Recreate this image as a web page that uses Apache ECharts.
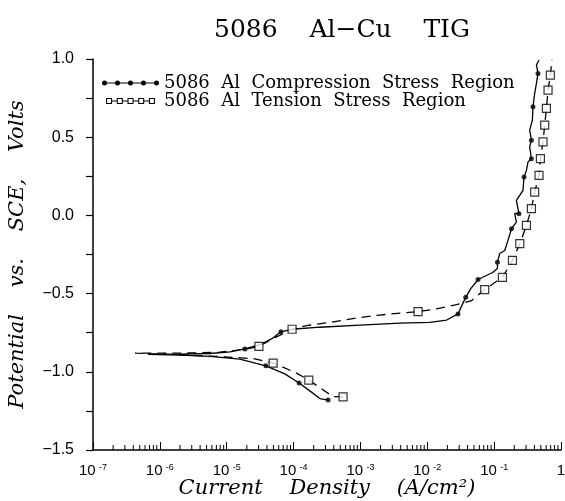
<!DOCTYPE html>
<html><head><meta charset="utf-8">
<script src="https://cdn.jsdelivr.net/npm/echarts@6/dist/echarts.min.js"></script>
<style>html,body{margin:0;padding:0;background:#fff}#c{width:565px;height:501px}</style>
</head><body><div id="c"></div>
<script>
const titleText = '5086    Al\u2212Cu    TIG';
const xAxisName = 'Current    Density    (A/cm\u00B2)';
const yAxisName = 'Potential    vs.    SCE,    Volts';
const nameComp = '5086  Al  Compression  Stress  Region';
const nameTens = '5086  Al  Tension  Stress  Region';
const xTickExponents = [-7, -6, -5, -4, -3, -2, -1, 0];
const yTickValues = [-1.5, -1.0, -0.5, 0.0, 0.5, 1.0];

// Compression: current density (A/cm2) and potential (V vs SCE), scan order
const compCurrent = [3.29e-4, 2.47e-4, 1.75e-4, 1.21e-4, 7.4e-5, 3.85e-5, 1.57e-5, 5.6e-6, 2.0e-6, 6.6e-7,
  2.0e-6, 5.6e-6, 1.12e-5, 1.87e-5, 3.13e-5, 4.74e-5, 6.46e-5, 9.4e-5, 2.47e-4, 9.8e-4,
  3.88e-3, 1.09e-2, 1.95e-2, 2.88e-2, 3.28e-2, 3.76e-2, 4.47e-2, 5.74e-2, 9.5e-2, 0.112,
  0.112, 0.121, 0.144, 0.161, 0.182, 0.215, 0.203, 0.235, 0.215, 0.270,
  0.280, 0.304, 0.321, 0.361, 0.340, 0.361, 0.340, 0.373, 0.381, 0.404,
  0.429, 0.453, 0.429, 0.469];
const compPotential = [-1.181, -1.171, -1.122, -1.072, -1.013, -0.962, -0.919, -0.901, -0.894, -0.888,
  -0.887, -0.883, -0.872, -0.854, -0.827, -0.788, -0.744, -0.728, -0.715, -0.702,
  -0.689, -0.684, -0.669, -0.630, -0.577, -0.524, -0.468, -0.410, -0.365, -0.340,
  -0.299, -0.244, -0.224, -0.160, -0.085, -0.043, 0.013, 0.011, 0.096, 0.160,
  0.246, 0.288, 0.342, 0.363, 0.438, 0.481, 0.545, 0.609, 0.694, 0.780,
  0.844, 0.908, 0.962, 0.994];
const compMarkCurrent = [3.29e-4, 1.21e-4, 3.85e-5, 1.87e-5, 6.46e-5, 2.88e-2, 3.76e-2, 5.74e-2, 0.112, 0.182, 0.235, 0.280, 0.361, 0.361, 0.381, 0.453];
const compMarkPotential = [-1.181, -1.072, -0.962, -0.854, -0.744, -0.630, -0.524, -0.410, -0.299, -0.085, 0.011, 0.246, 0.363, 0.481, 0.694, 0.908];

// Tension
const tensCurrent = [5.5e-4, 3.86e-4, 2.47e-4, 1.69e-4, 1.08e-4, 4.95e-5, 2.64e-5, 9.4e-6, 2.0e-6, 4.25e-7,
  2.0e-6, 7.9e-6, 1.87e-5, 3.03e-5, 5.25e-5, 9.5e-5, 1.56e-4, 3.49e-4, 8.75e-4, 1.95e-3,
  4.11e-3, 7.28e-3, 1.37e-2, 2.73e-2, 4.58e-2, 7.22e-2, 0.133, 0.188, 0.242, 0.304,
  0.361, 0.404, 0.469, 0.492, 0.538, 0.570, 0.605, 0.640, 0.693, 0.733];
const tensPotential = [-1.160, -1.158, -1.101, -1.053, -1.006, -0.944, -0.917, -0.904, -0.891, -0.880,
  -0.881, -0.875, -0.856, -0.838, -0.782, -0.728, -0.705, -0.684, -0.656, -0.637,
  -0.624, -0.615, -0.598, -0.571, -0.545, -0.474, -0.396, -0.288, -0.181, -0.064,
  0.043, 0.149, 0.256, 0.363, 0.470, 0.577, 0.684, 0.801, 0.897, 0.994];
const tensMarkCurrent = [5.5e-4, 1.69e-4, 4.95e-5, 3.03e-5, 9.5e-5, 7.28e-3, 7.22e-2, 0.133, 0.188, 0.242, 0.304, 0.361, 0.404, 0.469, 0.492, 0.538, 0.570, 0.605, 0.640, 0.693];
const tensMarkPotential = [-1.160, -1.053, -0.944, -0.838, -0.728, -0.615, -0.474, -0.396, -0.288, -0.181, -0.064, 0.043, 0.149, 0.256, 0.363, 0.470, 0.577, 0.684, 0.801, 0.897];

const zip = (a, b) => a.map((v, i) => [v, b[i]]);

// minor log ticks (2..9 x 10^n)
const minorTicks = [];
for (let e = -7; e < 0; e++) for (let k = 2; k <= 9; k++) minorTicks.push([k * Math.pow(10, e), -1.5]);

// legend icons
function compIcon() {
  let p = 'path://M0 2.5L57 2.5L57 3.5L0 3.5Z';
  for (let i = 0; i < 5; i++) {
    const cx = 2.5 + i * 13;
    p += ' M' + (cx - 2.5) + ' 3A2.5 2.5 0 1 1 ' + (cx + 2.5) + ' 3A2.5 2.5 0 1 1 ' + (cx - 2.5) + ' 3Z';
  }
  return p;
}
function tensIcon() {
  let p = 'path://';
  const s = 7, step = 12.5;
  for (let i = 0; i < 5; i++) {
    const x = i * step;
    p += 'M' + x + ' 0L' + (x + s) + ' 0L' + (x + s) + ' ' + s + 'L' + x + ' ' + s + 'Z ';
    p += 'M' + (x + 1.2) + ' 1.2L' + (x + 1.2) + ' ' + (s - 1.2) + 'L' + (x + s - 1.2) + ' ' + (s - 1.2) + 'L' + (x + s - 1.2) + ' 1.2Z ';
    if (i < 4) {
      const x2 = (i + 1) * step;
      p += 'M' + (x + s) + ' 3L' + x2 + ' 3L' + x2 + ' 4L' + (x + s) + ' 4Z ';
    }
  }
  return p;
}

const chart = echarts.init(document.getElementById('c'), null, {renderer: 'canvas'});
chart.setOption({
  animation: false,
  backgroundColor: '#fff',
  title: {
    text: titleText, left: 209, top: 13,
    textStyle: {fontFamily: 'DejaVu Serif', fontSize: 25, fontWeight: 'normal', color: '#000'}
  },
  legend: {
    orient: 'vertical', left: 102, top: 74, itemGap: 0, padding: 0,
    itemWidth: 57, itemHeight: 6,
    textStyle: {fontFamily: 'DejaVu Serif', fontSize: 18, color: '#000', lineHeight: 16},
    itemStyle: {color: '#000', borderWidth: 0},
    data: [{name: nameComp, icon: compIcon()}, {name: nameTens, icon: tensIcon()}]
  },
  grid: {left: 93, right: 4, top: 59, bottom: 51, containLabel: false, outerBoundsMode: 'none'},
  xAxis: {
    type: 'log', logBase: 10, min: 1e-7, max: 1, interval: 1,
    name: xAxisName, nameLocation: 'middle', nameGap: 28, nameMoveOverlap: false,
    nameTextStyle: {fontFamily: 'DejaVu Serif', fontStyle: 'italic', fontSize: 21, color: '#000'},
    axisLine: {show: true, onZero: false, lineStyle: {color: '#000', width: 1.5}},
    axisTick: {show: true, inside: true, length: 8, lineStyle: {color: '#000', width: 1}},
    splitLine: {show: false},
    axisLabel: {
      margin: 13, color: '#000',
      formatter: v => {
        const e = Math.round(Math.log10(v));
        return e === 0 ? '{b|1}' : '{b|10} {s|' + e + '}';
      },
      rich: {
        b: {fontFamily: 'Liberation Sans', fontSize: 15, color: '#000', lineHeight: 16},
        s: {fontFamily: 'Liberation Sans', fontSize: 9, color: '#000', verticalAlign: 'top', lineHeight: 16}
      }
    }
  },
  yAxis: {
    type: 'value', min: -1.5, max: 1.0, interval: 0.5,
    name: yAxisName, nameLocation: 'middle', nameGap: 65, nameRotate: 90, nameMoveOverlap: false,
    nameTextStyle: {fontFamily: 'DejaVu Serif', fontStyle: 'italic', fontSize: 21, color: '#000'},
    axisLine: {show: true, onZero: false, lineStyle: {color: '#000', width: 1.5}},
    axisTick: {show: true, inside: false, length: 7, lineStyle: {color: '#000', width: 1.2}},
    minorTick: {show: true, splitNumber: 2, length: 7, lineStyle: {color: '#000', width: 1.2}},
    splitLine: {show: false},
    axisLabel: {
      margin: 19, color: '#000', fontFamily: 'Liberation Sans', fontSize: 16,
      formatter: v => v.toFixed(1).replace('-', '\u2212')
    }
  },
  series: [
    {
      type: 'custom', name: 'minorTicks', silent: true, data: minorTicks,
      encode: {x: 0, y: 1}, clip: false,
      renderItem: (params, api) => {
        const p = api.coord([api.value(0), api.value(1)]);
        return {type: 'line', shape: {x1: p[0], y1: p[1], x2: p[0], y2: p[1] - 5}, style: {stroke: '#000', lineWidth: 1}};
      }
    },
    {
      name: nameComp, type: 'line', data: zip(compCurrent, compPotential),
      symbol: 'none', showSymbol: false, smooth: false,
      lineStyle: {color: '#000', width: 1.3, type: 'solid'}, itemStyle: {color: '#000'}, z: 3
    },
    {
      name: nameTens, type: 'line', data: zip(tensCurrent, tensPotential),
      symbol: 'none', showSymbol: false, smooth: false,
      lineStyle: {color: '#000', width: 1.3, type: [9, 6]}, itemStyle: {color: '#000'}, z: 3
    },
    {
      name: 'compMarks', type: 'scatter', data: zip(compMarkCurrent, compMarkPotential),
      symbol: 'circle', symbolSize: 5, itemStyle: {color: '#000'}, z: 4
    },
    {
      name: 'tensMarks', type: 'scatter', data: zip(tensMarkCurrent, tensMarkPotential),
      symbol: 'rect', symbolSize: 8, itemStyle: {color: '#fff', borderColor: '#000', borderWidth: 1.2}, z: 4
    }
  ]
});
</script>
</body></html>
